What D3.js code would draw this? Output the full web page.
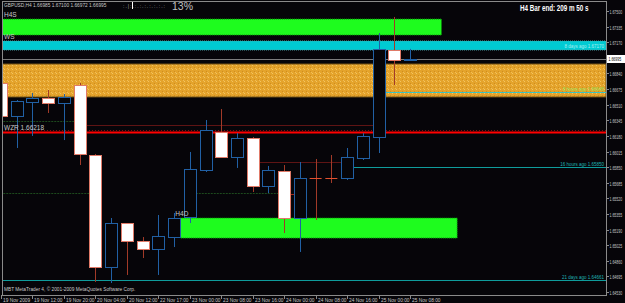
<!DOCTYPE html>
<html>
<head>
<meta charset="utf-8">
<script src="https://cdn.jsdelivr.net/npm/d3@7"></script>
<style>
  html, body { margin: 0; padding: 0; background: #060509; }
  svg { display: block; }
  text { font-family: "Liberation Sans", Arial, sans-serif; }
</style>
</head>
<body>
<div id="chart"></div>
<script>
// GBPUSD H4 bars ---------------------------------------------------------
const barTimes = ["19 Nov 04:00","19 Nov 08:00","19 Nov 12:00","19 Nov 16:00","19 Nov 20:00",
  "20 Nov 00:00","20 Nov 04:00","20 Nov 08:00","20 Nov 12:00","20 Nov 16:00",
  "22 Nov 17:00","22 Nov 20:00","23 Nov 00:00","23 Nov 04:00","23 Nov 08:00","23 Nov 12:00",
  "23 Nov 16:00","23 Nov 20:00","24 Nov 00:00","24 Nov 04:00","24 Nov 08:00","24 Nov 12:00",
  "24 Nov 16:00","24 Nov 20:00","25 Nov 00:00","25 Nov 04:00","25 Nov 08:00"];
const opens  = [1.66739,1.66390,1.66538,1.66580,1.66528,1.66718,1.65978,1.64794,1.65259,1.65069,
  1.64984,1.65111,1.65323,1.65819,1.66221,1.65957,1.66158,1.65650,1.65809,1.65312,
  1.65735,1.65735,1.65735,1.65946,1.66168,1.67090,1.66985];
const highs  = [1.66760,1.66559,1.66633,1.66665,1.66623,1.66739,1.65988,1.65312,1.65259,1.65111,
  1.65344,1.65365,1.66010,1.66348,1.66464,1.66210,1.66168,1.65862,1.65872,1.65904,
  1.65936,1.65978,1.66052,1.66210,1.67267,1.67437,1.67100];
const lows   = [1.66358,1.66052,1.66179,1.66422,1.66136,1.65872,1.64636,1.64625,1.64710,1.64889,
  1.64710,1.65005,1.65259,1.65798,1.65946,1.65841,1.65587,1.65576,1.65153,1.64953,
  1.65291,1.65682,1.65714,1.65925,1.65999,1.66718,1.66972];
const closes = [1.66390,1.66549,1.66580,1.66528,1.66591,1.65988,1.64794,1.65259,1.65069,1.64984,
  1.65122,1.65312,1.65830,1.66242,1.65957,1.66158,1.65650,1.65819,1.65312,1.65735,
  1.65735,1.65735,1.65957,1.66179,1.67098,1.66980,1.66995];

// axis labels
const timeTickBars = [0,2,4,6,8,10,12,14,16,18,20,22,24,26];
const timeTickLabels = ["19 Nov 2009","19 Nov 12:00","19 Nov 20:00","20 Nov 04:00","20 Nov 12:00",
  "22 Nov 17:00","23 Nov 00:00","23 Nov 08:00","23 Nov 16:00","24 Nov 00:00","24 Nov 08:00",
  "24 Nov 16:00","25 Nov 00:00","25 Nov 08:00"];
const priceTicks = ["1.67500","1.67335","1.67170","1.66840","1.66675","1.66510","1.66345","1.66180",
  "1.66015","1.65850","1.65685","1.65520","1.65355","1.65190","1.65025","1.64860","1.64695","1.64530"];
const bidPrice = 1.66995;

// supply / demand zones
const zoneLabels  = ["H4S", "WS", "", "H4D"];
const zoneTops    = [1.67415, 1.67183, 1.66940, 1.65312];
const zoneBottoms = [1.67246, 1.67088, 1.66591, 1.65100];
const zoneFrom    = [-1, -1, -1, 11.4];
const zoneTo      = [28, 40, 40, 29];

// levels with text
const levelPrices = [1.66218, 1.65850, 1.66645, 1.64661];
const levelTexts  = ["WZR 1.66218", "16 hours ago 1.65850", "8 hours ago 1.66645", "21 days ago 1.64661"];
const levelFrom   = [-1, 22, 24, -1];

// thin trace lines
const tracePrices = [1.66290, 1.65900, 1.66337, 1.65576, 1.65576, 1.65565];
const traceFrom   = [5, 16, -1, -1, 12, 18];
const traceTo     = [24, 22, 5, 6, 18, 19];

// SETTINGS ---------------------------------------------------------------
const W = 625, H = 303;
const frame = { left: 2, right: 606, top: 1, bottom: 295 };
const colors = {
  bg: "#060509", frame: "#8a8a8a", text: "#c8c8c8",
  bull: "#2160a4", bearFill: "#ffffff", bearStroke: "#e07a68", bearWick: "#a23a28",
  zones: ["#1efc1e", "#00cbd3", "#e4a32b", "#1efc1e"],
  zoneStroke: ["#0c8c0c", "#4aa6aa", "#6a4a12", "#0c8c0c"],
  levels: ["#ff0000", "#0f9c9c", "#3ac2c2", "#0f9c9c"],
  levelText: ["#c8c8c8", "#1fb3b3", "#8fe05a", "#1fb3b3"],
  traces: ["#5e1414", "#5e1414", "#1d4a1d", "#1d4a1d", "#1d4a1d", "#a02818"]
};

const x = d3.scaleLinear().domain([0, barTimes.length - 1]).range([1, 410]);
const y = d3.scaleLinear().domain([1.6453, 1.675]).range([292, 11]);

const svg = d3.select("#chart").append("svg").attr("width", W).attr("height", H);
svg.append("rect").attr("width", W).attr("height", H).attr("fill", colors.bg);

// orange speckle texture
const defs = svg.append("defs");
const pat = defs.append("pattern").attr("id", "speckle").attr("width", 4).attr("height", 4)
  .attr("patternUnits", "userSpaceOnUse");
pat.append("rect").attr("width", 4).attr("height", 4).attr("fill", colors.zones[2]);
pat.append("rect").attr("x", 0).attr("y", 1).attr("width", 1).attr("height", 1).attr("fill", "#f3c462");
pat.append("rect").attr("x", 2).attr("y", 3).attr("width", 1).attr("height", 1).attr("fill", "#d08d1e");
pat.append("rect").attr("x", 3).attr("y", 0).attr("width", 1).attr("height", 1).attr("fill", "#f0bd55");

defs.append("clipPath").attr("id", "plot").append("rect")
  .attr("x", frame.left).attr("y", frame.top)
  .attr("width", frame.right - frame.left).attr("height", frame.bottom - frame.top);

const plot = svg.append("g").attr("clip-path", "url(#plot)");

// narrow text: natural glyphs squeezed horizontally with a transform
function squeezedText(parent, tx, ty, sx, txt){
  return parent.append("text")
    .attr("transform", `translate(${tx},${ty}) scale(${sx},1)`)
    .text(txt);
}

//ZONES -------------------------------------------------------------------
zoneTops.forEach((top, i) => {
  const x0 = Math.max(x(zoneFrom[i]), frame.left), x1 = Math.min(x(zoneTo[i]), frame.right);
  plot.append("rect")
    .attr("x", x0).attr("y", y(top))
    .attr("width", x1 - x0).attr("height", y(zoneBottoms[i]) - y(top))
    .attr("fill", i === 2 ? "url(#speckle)" : colors.zones[i])
    .attr("stroke", colors.zoneStroke[i]).attr("stroke-width", 1)
    .attr("stroke-dasharray", i === 2 ? null : "1,1");
  if (zoneLabels[i]) {
    svg.append("text")
      .attr("x", Math.max(x0 - 5, frame.left + 2)).attr("y", y(top) - 2)
      .attr("fill", colors.text).attr("font-size", 6.5)
      .text(zoneLabels[i]);
  }
});
svg.append("text")
  .attr("x", frame.right - 2).attr("y", y(zoneBottoms[1]) - 2)
  .attr("text-anchor", "end").attr("fill", "#a8eef0").attr("font-size", 4.5)
  .text("8 days ago 1.67170");

//TRACE LINES -------------------------------------------------------------
tracePrices.forEach((p, i) => {
  plot.append("line")
    .attr("x1", x(traceFrom[i])).attr("x2", x(traceTo[i]))
    .attr("y1", Math.round(y(p)) + 0.5).attr("y2", Math.round(y(p)) + 0.5)
    .attr("stroke", colors.traces[i]).attr("stroke-width", 1)
    .attr("stroke-dasharray", i >= 2 && i <= 4 ? "2,1" : null);
});

//LEVELS ------------------------------------------------------------------
levelPrices.forEach((p, i) => {
  const yy = Math.round(y(p)) + 0.5;
  plot.append("line")
    .attr("x1", Math.max(x(levelFrom[i]), frame.left)).attr("x2", frame.right)
    .attr("y1", yy).attr("y2", yy)
    .attr("stroke", colors.levels[i]).attr("stroke-width", i === 0 ? 2 : 1);
  if (i === 0) {
    plot.append("line").attr("x1", frame.left).attr("x2", frame.right)
      .attr("y1", yy - 2).attr("y2", yy - 2)
      .attr("stroke", "#7a1010").attr("stroke-dasharray", "1,2");
    svg.append("text").attr("x", frame.left + 2).attr("y", yy - 3)
      .attr("fill", colors.levelText[i]).attr("font-size", 6.5).text(levelTexts[i]);
  } else {
    svg.append("text").attr("x", frame.right - 2).attr("y", yy - 2)
      .attr("text-anchor", "end").attr("fill", colors.levelText[i]).attr("font-size", 4.5)
      .text(levelTexts[i]);
  }
});

// bid line
plot.append("line").attr("x1", frame.left).attr("x2", frame.right)
  .attr("y1", Math.round(y(bidPrice)) + 0.5).attr("y2", Math.round(y(bidPrice)) + 0.5)
  .attr("stroke", "#7c7c7c");

//CANDLES -----------------------------------------------------------------
const bars = barTimes.map((t, i) => ({ t, i, o: opens[i], h: highs[i], l: lows[i], c: closes[i] }));
const bodyW = 12;

const candle = plot.selectAll(".candle").data(bars).enter().append("g").attr("class", "candle");

candle.append("line")
  .attr("x1", d => Math.round(x(d.i)) + 0.5).attr("x2", d => Math.round(x(d.i)) + 0.5)
  .attr("y1", d => y(d.h)).attr("y2", d => y(d.l))
  .attr("stroke", d => d.c > d.o ? colors.bull : colors.bearWick);

candle.filter(d => d.c !== d.o).append("rect")
  .attr("x", d => Math.round(x(d.i)) - bodyW / 2 + 0.5)
  .attr("y", d => Math.round(y(Math.max(d.o, d.c))) + 0.5)
  .attr("width", bodyW)
  .attr("height", d => Math.max(1, Math.round(y(Math.min(d.o, d.c)) - y(Math.max(d.o, d.c)))))
  .attr("fill", d => d.c > d.o ? colors.bg : colors.bearFill)
  .attr("stroke", d => d.c > d.o ? colors.bull : colors.bearStroke);

candle.filter(d => d.c === d.o).append("line")
  .attr("x1", d => x(d.i) - bodyW / 2).attr("x2", d => x(d.i) + bodyW / 2)
  .attr("y1", d => Math.round(y(d.o)) + 0.5).attr("y2", d => Math.round(y(d.o)) + 0.5)
  .attr("stroke", "#e2502e");

//FRAME & AXES ------------------------------------------------------------
svg.append("rect")
  .attr("x", frame.left + 0.5).attr("y", frame.top + 0.5)
  .attr("width", frame.right - frame.left).attr("height", frame.bottom - frame.top)
  .attr("fill", "none").attr("stroke", colors.frame);

const yAxis = svg.append("g");
priceTicks.forEach(t => {
  const yy = Math.round(y(+t)) + 0.5;
  yAxis.append("line").attr("x1", frame.right).attr("x2", frame.right + 3)
    .attr("y1", yy).attr("y2", yy).attr("stroke", colors.frame);
  squeezedText(yAxis, frame.right + 3.5, yy + 2, 0.66, t)
    .attr("fill", colors.text).attr("font-size", 5.3);
});
const bidY = Math.round(y(bidPrice));
yAxis.append("rect").attr("x", frame.right + 1).attr("y", bidY - 4)
  .attr("width", 18).attr("height", 8).attr("fill", "#ffffff");
squeezedText(yAxis, frame.right + 2.5, bidY + 2, 0.66, d3.format(".5f")(bidPrice))
  .attr("fill", "#000").attr("font-size", 5.3);

const xAxis = svg.append("g");
timeTickBars.forEach((b, i) => {
  const xx = Math.round(x(b)) + 0.5;
  xAxis.append("line").attr("x1", xx).attr("x2", xx)
    .attr("y1", frame.bottom).attr("y2", frame.bottom + 4).attr("stroke", colors.frame);
  xAxis.append("text").attr("x", xx + 1.5).attr("y", frame.bottom + 6.5)
    .attr("fill", colors.text).attr("font-size", 4.8).text(timeTickLabels[i]);
});

//HEADER TEXTS ------------------------------------------------------------
const last = bars[bars.length - 1];
svg.append("text").attr("x", 4).attr("y", 7).attr("fill", colors.text).attr("font-size", 4.8)
  .text(`GBPUSD,H4  ${[last.o, last.h, last.l, last.c].map(d3.format(".5f")).join(" ")}`);
svg.append("text").attr("x", 123).attr("y", 8).attr("fill", "#b0b0b0").attr("font-size", 5)
  .attr("letter-spacing", 1).text(":.|:.:.:.:.:.:.:.:");
svg.append("line").attr("x1", 132.5).attr("x2", 132.5).attr("y1", 2).attr("y2", 9).attr("stroke", "#ffffff");
svg.append("text").attr("x", 172).attr("y", 10).attr("fill", "#c0c0c0").attr("font-size", 10.5)
  .text("13%");
squeezedText(svg, 520, 10.5, 0.66, "H4 Bar end: 209 m 50 s")
  .attr("fill", "#ffffff").attr("font-size", 9.5).attr("font-weight", "bold");
svg.append("text").attr("x", 4).attr("y", 291).attr("fill", colors.text).attr("font-size", 4.8)
  .text("MBT MetaTrader 4, © 2001-2009 MetaQuotes Software Corp.");
</script>
</body>
</html>
